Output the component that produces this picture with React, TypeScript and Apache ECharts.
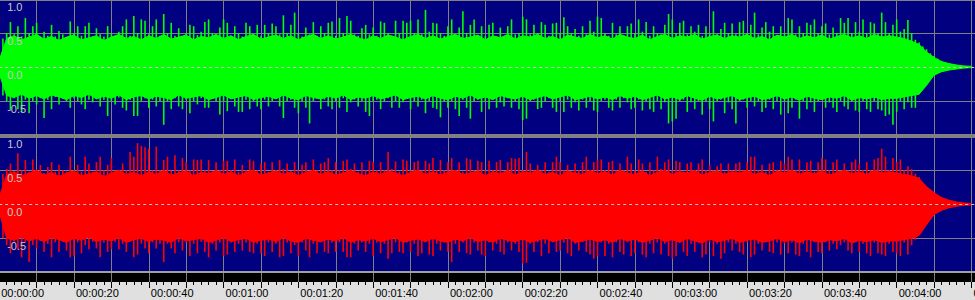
import React, { useEffect, useRef } from 'react';
import * as echarts from 'echarts';

// Dense "body" envelope, one value every 2 s (t = 0, 2, ..., 260)
const BODY_STEP_S = 2;
const greenBodyTop = [
  .1, .42, .46, .4, .44, .48, .41, .45, .39, .44,
  .47, .4, .43, .46, .39, .44, .48, .42, .45, .4,
  .46, .42, .48, .41, .44, .47, .4, .45, .43, .48,
  .42, .46, .4, .45, .48, .41, .44, .47, .42, .46,
  .4, .45, .48, .42, .46, .41, .44, .48, .43, .4,
  .46, .42, .47, .44, .4, .45, .48, .42, .46, .41,
  .45, .48, .42, .44, .47, .4, .46, .43, .48, .41,
  .46, .44, .48, .42, .45, .4, .47, .44, .42, .48,
  .43, .46, .41, .48, .44, .42, .47, .4, .45, .48,
  .42, .46, .44, .48, .41, .45, .47, .42, .46, .44,
  .48, .42, .45, .4, .47, .44, .48, .42, .46, .43,
  .47, .41, .45, .48, .43, .46, .42, .48, .44, .46,
  .44, .42, .38, .33, .22, .14, .08, .05, .03, .015,
  .01];
const greenBodyBottom = [
  -.1, -.42, -.45, -.4, -.46, -.42, -.47, -.41, -.44, -.48,
  -.42, -.45, -.4, -.47, -.43, -.46, -.41, -.48, -.44, -.42,
  -.47, -.43, -.45, -.48, -.41, -.46, -.44, -.42, -.48, -.45,
  -.41, -.47, -.44, -.42, -.48, -.45, -.43, -.47, -.41, -.46,
  -.48, -.42, -.45, -.47, -.43, -.46, -.41, -.48, -.44, -.46,
  -.42, -.47, -.44, -.41, -.48, -.45, -.43, -.47, -.42, -.46,
  -.48, -.43, -.46, -.41, -.47, -.44, -.48, -.42, -.45, -.47,
  -.43, -.48, -.45, -.42, -.47, -.44, -.41, -.48, -.46, -.43,
  -.47, -.44, -.48, -.42, -.46, -.43, -.48, -.45, -.41, -.47,
  -.44, -.48, -.42, -.46, -.49, -.43, -.47, -.45, -.42, -.48,
  -.45, -.43, -.48, -.46, -.42, -.47, -.44, -.49, -.43, -.46,
  -.48, -.44, -.46, -.42, -.49, -.45, -.47, -.44, -.48, -.46,
  -.46, -.44, -.42, -.4, -.27, -.12, -.07, -.045, -.03, -.015,
  -.01];
const redBodyTop = [
  .1, .44, .48, .42, .46, .5, .43, .47, .41, .46,
  .49, .42, .45, .48, .41, .46, .5, .44, .47, .42,
  .48, .44, .5, .43, .46, .49, .42, .47, .45, .5,
  .44, .48, .42, .47, .5, .43, .46, .49, .44, .48,
  .42, .47, .5, .44, .48, .43, .46, .5, .45, .42,
  .48, .44, .49, .46, .42, .47, .5, .44, .48, .43,
  .47, .5, .44, .46, .49, .42, .48, .45, .5, .43,
  .48, .46, .5, .44, .47, .42, .49, .46, .44, .5,
  .45, .48, .43, .5, .46, .44, .49, .42, .47, .5,
  .44, .48, .46, .5, .43, .47, .49, .44, .48, .46,
  .5, .44, .47, .42, .49, .46, .5, .44, .48, .45,
  .49, .43, .47, .5, .45, .48, .44, .5, .46, .48,
  .46, .44, .42, .38, .26, .17, .1, .06, .035, .02,
  .01];
const redBodyBottom = [
  -.12, -.5, -.53, -.48, -.54, -.5, -.55, -.49, -.52, -.56,
  -.5, -.53, -.48, -.55, -.51, -.54, -.49, -.56, -.52, -.5,
  -.55, -.51, -.53, -.56, -.49, -.54, -.52, -.5, -.56, -.53,
  -.49, -.55, -.52, -.5, -.56, -.53, -.51, -.55, -.49, -.54,
  -.56, -.5, -.53, -.55, -.51, -.54, -.49, -.56, -.52, -.54,
  -.5, -.55, -.52, -.49, -.56, -.53, -.51, -.55, -.5, -.54,
  -.56, -.51, -.54, -.49, -.55, -.52, -.56, -.5, -.53, -.55,
  -.51, -.56, -.53, -.5, -.55, -.52, -.49, -.56, -.54, -.51,
  -.55, -.52, -.56, -.5, -.54, -.51, -.56, -.53, -.49, -.55,
  -.52, -.56, -.5, -.54, -.57, -.51, -.55, -.53, -.5, -.56,
  -.53, -.51, -.56, -.54, -.5, -.55, -.52, -.57, -.51, -.54,
  -.56, -.52, -.54, -.5, -.57, -.53, -.55, -.52, -.56, -.54,
  -.54, -.52, -.5, -.46, -.3, -.15, -.09, -.05, -.03, -.015,
  -.01];

// Per-second peaks (t = 0..260 s), left channel (green)
const greenPeakTop = [
  .15, .42, .5, .66, .48, .6, .45, .72, .5, .6,
  .65, .44, .52, .46, .62, .45, .53, .48, .44, .67,
  .5, .6, .46, .6, .65, .44, .57, .48, .45, .6,
  .5, .44, .52, .6, .7, .46, .75, .5, .7, .68,
  .48, .6, .7, .46, .78, .5, .65, .46, .57, .45,
  .5, .62, .6, .47, .52, .66, .7, .5, .46, .58,
  .7, .65, .46, .6, .5, .45, .65, .6, .48, .62,
  .46, .62, .5, .64, .6, .48, .76, .5, .62, .8,
  .5, .45, .58, .48, .66, .46, .6, .5, .65, .67,
  .46, .72, .5, .75, .68, .48, .46, .57, .62, .48,
  .58, .46, .67, .65, .5, .46, .68, .5, .68, .65,
  .68, .5, .7, .48, .84, .52, .65, .64, .5, .46,
  .6, .7, .48, .58, .82, .5, .62, .7, .46, .6,
  .46, .62, .65, .45, .58, .44, .6, .7, .48, .5,
  .74, .7, .48, .62, .5, .66, .62, .46, .64, .65,
  .5, .73, .6, .5, .56, .46, .6, .48, .68, .52,
  .74, .72, .5, .46, .65, .48, .6, .46, .6, .64,
  .5, .7, .52, .66, .46, .6, .5, .48, .62, .78,
  .7, .5, .65, .68, .48, .6, .52, .62, .46, .6,
  .5, .82, .48, .56, .65, .5, .64, .48, .66, .68,
  .5, .62, .8, .48, .58, .66, .52, .6, .46, .6,
  .5, .72, .7, .48, .6, .5, .65, .62, .7, .5,
  .6, .64, .48, .58, .5, .72, .65, .72, .5, .66,
  .52, .7, .5, .66, .64, .5, .8, .66, .5, .62,
  .7, .52, .56, .69, .5, .4, .36, .3, .26, .2,
  .16, .12, .09, .07, .05, .04, .03, .03, .02, .01, .01];
const greenPeakBottom = [
  -.15, -.42, -.5, -.63, -.46, -.62, -.66, -.48, -.68, -.5,
  -.55, -.46, -.75, -.48, -.62, -.44, -.55, -.46, -.5, -.6,
  -.46, -.5, -.55, -.62, -.48, -.52, -.45, -.58, -.48, -.72,
  -.5, -.55, -.45, -.6, -.64, -.48, -.72, -.72, -.5, -.46,
  -.6, -.48, -.58, -.5, -.85, -.5, -.62, -.46, -.58, -.62,
  -.48, -.68, -.5, -.55, -.46, -.6, -.6, -.47, -.5, -.7,
  -.5, -.65, -.46, -.58, -.66, -.66, -.48, -.62, -.5, -.58,
  -.62, -.48, -.58, -.5, -.46, -.58, -.75, -.5, -.48, -.6,
  -.68, -.5, -.6, -.83, -.5, -.46, -.62, -.48, -.58, -.62,
  -.5, -.6, -.46, -.66, -.52, -.48, -.58, -.5, -.66, -.72,
  -.5, -.48, -.62, -.5, -.46, -.6, -.5, -.6, -.52, -.46,
  -.62, -.5, -.58, -.48, -.68, -.5, -.6, -.62, -.74, -.5,
  -.6, -.5, -.62, -.72, -.48, -.6, -.76, -.5, -.48, -.66,
  -.5, -.62, -.46, -.6, -.52, -.58, -.46, -.6, -.5, -.62,
  -.78, -.76, -.5, -.48, -.62, -.6, -.5, -.46, -.6, -.66,
  -.5, -.66, -.48, -.6, -.52, -.64, -.48, -.6, -.5, -.64,
  -.66, -.5, -.48, -.6, -.64, -.48, -.6, -.46, -.52, -.62,
  -.6, -.48, -.64, -.5, -.62, -.66, -.5, -.62, -.52, -.83,
  -.8, -.76, -.5, -.48, -.66, -.52, -.62, -.5, -.7, -.5,
  -.62, -.8, -.5, -.48, -.68, -.52, -.62, -.83, -.5, -.48,
  -.6, -.5, -.58, -.5, -.66, -.6, -.48, -.62, -.5, -.7,
  -.5, -.68, -.6, -.48, -.76, -.5, -.62, -.52, -.66, -.5,
  -.48, -.6, -.52, -.6, -.66, -.5, -.58, -.62, -.5, -.64,
  -.66, -.5, -.62, -.66, -.5, -.62, -.64, -.72, -.7, -.85,
  -.66, -.5, -.62, -.52, -.6, -.6, -.4, -.3, -.24, -.16,
  -.12, -.08, -.07, -.05, -.04, -.03, -.03, -.02, -.02, -.01, -.01];

// Per-second peaks (t = 0..260 s), right channel (red)
const redPeakTop = [
  .2, .45, .52, .6, .48, .75, .5, .65, .48, .66,
  .5, .58, .46, .55, .62, .48, .58, .5, .48, .7,
  .5, .58, .48, .7, .6, .48, .62, .7, .5, .58,
  .68, .5, .48, .6, .5, .77, .7, .9, .86, .84,
  .82, .5, .85, .5, .65, .7, .5, .72, .5, .68,
  .62, .5, .66, .65, .66, .5, .65, .48, .62, .5,
  .64, .64, .5, .66, .48, .58, .5, .66, .64, .5,
  .6, .62, .48, .62, .5, .65, .52, .6, .48, .62,
  .5, .58, .62, .48, .66, .5, .6, .62, .68, .5,
  .62, .5, .64, .66, .52, .6, .48, .62, .5, .64,
  .62, .5, .62, .5, .77, .52, .63, .48, .66, .64,
  .5, .62, .64, .5, .64, .6, .68, .5, .65, .5,
  .62, .68, .5, .62, .48, .68, .66, .5, .64, .62,
  .5, .64, .5, .62, .65, .48, .62, .68, .67, .68,
  .5, .77, .6, .5, .58, .5, .62, .48, .62, .7,
  .62, .5, .58, .48, .6, .5, .62, .7, .5, .62,
  .66, .66, .5, .62, .64, .5, .6, .5, .7, .6,
  .5, .66, .6, .48, .62, .5, .7, .52, .62, .66,
  .5, .64, .62, .48, .6, .62, .5, .6, .66, .5,
  .58, .5, .56, .6, .48, .6, .5, .6, .62, .5,
  .62, .7, .7, .5, .58, .48, .6, .62, .5, .64,
  .6, .7, .66, .5, .66, .5, .62, .64, .48, .62,
  .68, .66, .5, .62, .66, .48, .6, .5, .62, .66,
  .6, .5, .62, .5, .66, .68, .82, .7, .5, .68,
  .62, .66, .5, .56, .52, .45, .4, .32, .25, .2,
  .16, .12, .1, .07, .05, .04, .03, .03, .02, .01, .01];
const redPeakBottom = [
  -.2, -.5, -.6, -.72, -.55, -.66, -.78, -.56, -.85, -.6,
  -.65, -.54, -.7, -.58, -.78, -.56, -.7, -.55, -.68, -.78,
  -.76, -.56, -.72, -.6, -.66, -.55, -.65, -.78, -.56, -.7,
  -.66, -.55, -.66, -.58, -.7, -.55, -.78, -.74, -.58, -.65,
  -.72, -.56, -.65, -.58, -.85, -.58, -.65, -.72, -.56, -.68,
  -.56, -.76, -.58, -.72, -.55, -.7, -.78, -.58, -.68, -.56,
  -.76, -.74, -.56, -.7, -.58, -.68, -.56, -.7, -.72, -.58,
  -.72, -.76, -.56, -.7, -.58, -.78, -.76, -.56, -.72, -.6,
  -.76, -.56, -.68, -.78, -.58, -.72, -.56, -.7, -.72, -.56,
  -.7, -.56, -.7, -.78, -.78, -.58, -.68, -.56, -.7, -.58,
  -.76, -.56, -.72, -.58, -.8, -.72, -.56, -.7, -.72, -.56,
  -.7, -.58, -.76, -.72, -.56, -.74, -.76, -.58, -.68, -.56,
  -.7, -.85, -.58, -.7, -.56, -.72, -.74, -.56, -.68, -.74,
  -.76, -.56, -.68, -.58, -.7, -.74, -.56, -.68, -.58, -.7,
  -.87, -.86, -.58, -.7, -.56, -.76, -.58, -.72, -.56, -.7,
  -.68, -.56, -.72, -.76, -.58, -.68, -.56, -.7, -.74, -.8,
  -.76, -.56, -.76, -.58, -.78, -.56, -.7, -.74, -.56, -.76,
  -.72, -.56, -.74, -.78, -.58, -.72, -.56, -.74, -.58, -.76,
  -.8, -.76, -.56, -.7, -.76, -.58, -.7, -.56, -.78, -.74,
  -.56, -.76, -.58, -.8, -.72, -.56, -.68, -.58, -.7, -.74,
  -.56, -.78, -.74, -.58, -.68, -.56, -.7, -.72, -.56, -.74,
  -.58, -.72, -.56, -.74, -.76, -.58, -.7, -.78, -.56, -.7,
  -.72, -.56, -.68, -.58, -.66, -.6, -.56, -.68, -.72, -.56,
  -.7, -.58, -.72, -.76, -.56, -.72, -.74, -.76, -.58, -.7,
  -.72, -.76, -.56, -.74, -.6, -.52, -.42, -.34, -.24, -.18,
  -.13, -.1, -.08, -.06, -.05, -.04, -.03, -.02, -.02, -.01, -.01];

const GREEN = '#00ff00';
const RED = '#ff0000';
const NAVY = '#000080';
const GRID_GRAY = '#808080';
const FONT = '"Liberation Sans", Arial, sans-serif';

const pad2 = (n: number) => (n < 10 ? '0' + n : '' + n);
const fmtTime = (v: number) => {
  const s = Math.round(v);
  return pad2(Math.floor(s / 3600)) + ':' + pad2(Math.floor(s / 60) % 60) + ':' + pad2(s % 60);
};

function channelSeries(k: number, color: string, bTop: number[], bBot: number[], pTop: number[], pBot: number[]) {
  const common = { xAxisIndex: k, yAxisIndex: k, silent: true };
  const area = {
    ...common, type: 'line', symbol: 'none', showSymbol: false,
    lineStyle: { width: 1, color }, itemStyle: { color }, areaStyle: { color, opacity: 1 },
  };
  return [
    { ...area, data: bTop.map((v, i) => [i * BODY_STEP_S, v]) },
    { ...area, data: bBot.map((v, i) => [i * BODY_STEP_S, v]) },
    {
      ...common, type: 'bar', stack: 'peaks' + k, barWidth: 1.6,
      data: pTop.map((v, i) => [i, v]), itemStyle: { color },
    },
    {
      ...common, type: 'bar', stack: 'peaks' + k, barWidth: 1.6,
      data: pBot.map((v, i) => [i, v]), itemStyle: { color },
      markLine: {
        silent: true, symbol: 'none', label: { show: false },
        lineStyle: { color: '#c8c8c8', type: [3, 3], width: 1 },
        data: [{ yAxis: 0 }],
      },
    },
  ];
}

function waveX(k: number) {
  return {
    type: 'value', gridIndex: k, min: 0, max: 261, interval: 10,
    axisLine: { show: false }, axisTick: { show: false }, axisLabel: { show: false },
    splitLine: { show: true, lineStyle: { color: GRID_GRAY, width: 1 } },
  };
}

function waveY(k: number) {
  return {
    type: 'value', gridIndex: k, min: -1, max: 1, interval: 0.5,
    axisLine: { show: false }, axisTick: { show: false }, axisLabel: { show: false },
    splitLine: { show: true, lineStyle: { color: [GRID_GRAY, GRID_GRAY, 'rgba(0,0,0,0)', GRID_GRAY, GRID_GRAY], width: 1 } },
  };
}

function labelY(k: number) {
  return {
    type: 'value', gridIndex: k, min: -1, max: 1, interval: 0.5, position: 'left', offset: 0, z: 10,
    axisLine: { show: false },
    axisTick: { show: false },
    splitLine: { show: false },
    axisLabel: {
      inside: true, margin: 8, color: '#c8c8c8', fontSize: 11, fontFamily: FONT,
      verticalAlign: 'top', padding: [2, 0, 0, 0],
      showMinLabel: true, showMaxLabel: true,
      formatter: (v: number) => (v <= -1 ? '' : v.toFixed(1)),
    },
  };
}

export default function App() {
  const ref = useRef<HTMLDivElement>(null);
  useEffect(() => {
    if (!ref.current) return;
    const chart = echarts.init(ref.current, undefined, { renderer: 'svg' });
    const gridBase = { left: -0.8, width: 976, containLabel: false, outerBoundsMode: 'none', borderWidth: 0, show: true };
    const option: any = {
      animation: false,
      backgroundColor: '#e0e0e0',
      textStyle: { fontFamily: FONT },
      grid: [
        { ...gridBase, top: -1, height: 136, backgroundColor: NAVY },
        { ...gridBase, top: 136.3, height: 136, backgroundColor: NAVY },
        { ...gridBase, top: 273, height: 9, backgroundColor: '#000000' },
      ],
      xAxis: [
        waveX(0),
        waveX(1),
        {
          type: 'value', gridIndex: 2, min: 0, max: 261, interval: 10, position: 'bottom',
          axisLine: { show: false },
          axisTick: { show: true, length: 6, lineStyle: { color: '#000', width: 1 } },
          minorTick: { show: true, splitNumber: 5, length: 3, lineStyle: { color: '#000', width: 1 } },
          splitLine: { show: true, lineStyle: { color: GRID_GRAY, width: 1 } },
          axisLabel: {
            show: true, margin: 5, color: '#000', fontSize: 11, fontFamily: FONT,
            align: 'left', padding: [0, 0, 0, 2],
            showMinLabel: true, showMaxLabel: false,
            formatter: (v: number) => (Math.round(v) % 20 === 0 ? fmtTime(v) : ''),
          },
        },
      ],
      yAxis: [
        waveY(0),
        waveY(1),
        { type: 'value', gridIndex: 2, min: 0, max: 1, show: false },
        { ...labelY(0) },
        { ...labelY(1) },
      ],
      graphic: [
        { type: 'rect', z: 100, silent: true, shape: { x: 0, y: 0, width: 975, height: 1 }, style: { fill: GRID_GRAY } },
        { type: 'rect', z: 100, silent: true, shape: { x: 0, y: 134, width: 975, height: 4 }, style: { fill: GRID_GRAY } },
        { type: 'rect', z: 100, silent: true, shape: { x: 0, y: 271, width: 975, height: 2 }, style: { fill: '#a0a0a0' } },
      ],
      series: [
        ...channelSeries(0, GREEN, greenBodyTop, greenBodyBottom, greenPeakTop, greenPeakBottom),
        ...channelSeries(1, RED, redBodyTop, redBodyBottom, redPeakTop, redPeakBottom),
      ],
    };
    chart.setOption(option);
    return () => chart.dispose();
  }, []);
  return (
    <div
      ref={ref}
      style={{ position: 'absolute', left: 0, top: 0, width: 975, height: 300 }}
    />
  );
}
